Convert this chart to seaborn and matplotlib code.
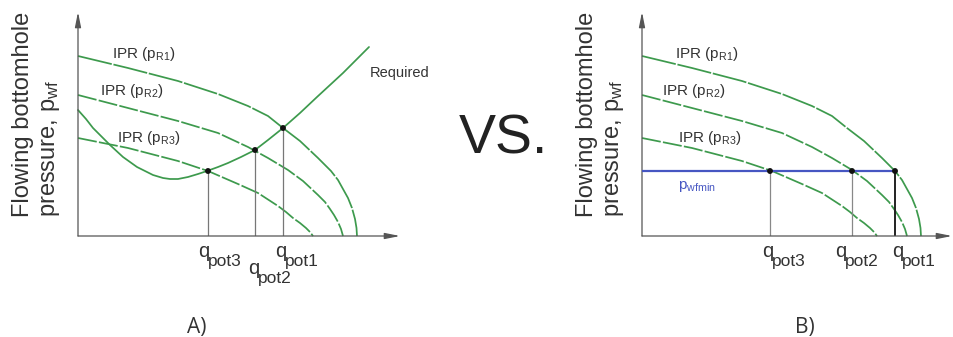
import matplotlib
matplotlib.use("Agg")
import matplotlib.pyplot as plt
import seaborn as sns

# Inflow performance curves (rate q, flowing pressure p), shared by both panels
ipr1_q = [0, 50, 100, 140, 170, 190, 205, 222, 240, 253, 260, 265, 270, 274, 277, 278.5, 279]
ipr1_p = [180, 168, 155, 142, 130, 120, 108, 95, 78, 65, 56, 47, 38, 28, 17, 8, 0]
ipr2_q = [0, 50, 100, 140, 170, 190, 210, 225, 240, 247, 252, 256, 260, 263, 265]
ipr2_p = [141, 128, 115, 103, 89, 78, 66, 55, 41, 34, 27, 21, 14, 7, 0]
ipr3_q = [0, 50, 100, 130, 160, 180, 200, 208, 215, 222, 228, 232, 235]
ipr3_p = [98, 88, 75, 65, 52, 43, 30, 24, 18, 13, 8, 4, 0]

# Required (outflow) pressure curve for panel A
req_q = [0, 8, 15, 24, 32, 45, 59, 75, 85, 92, 100, 110, 120, 129, 140, 150, 163,
         177, 190, 205, 222, 239, 252, 265, 278, 291]
req_p = [126, 117, 108, 99, 91, 79, 69, 61, 58, 57, 57, 59, 62, 65, 69, 73, 79,
         86, 96, 108, 123, 139, 151, 163, 176, 189]

# Operating points
qpot_a = [205, 177, 130]
ppot_a = [108, 86, 65]
qpot_b = [253, 210, 128]
pwfmin = 65

ipr_labels = [r"IPR ($\mathregular{p_{R1}}$)", r"IPR ($\mathregular{p_{R2}}$)",
              r"IPR ($\mathregular{p_{R3}}$)"]
pot_labels = ["pot1", "pot2", "pot3"]

GREEN = "#3d9a4d"
BLUE = "#4656c2"
TXT = "#333333"

sns.set_theme(style="white")
plt.rcParams["font.family"] = ["Liberation Sans", "DejaVu Sans"]
plt.rcParams["mathtext.fontset"] = "custom"
plt.rcParams["mathtext.rm"] = "Liberation Sans"

W, H = 954, 337
fig = plt.figure(figsize=(W / 100, H / 100), dpi=100)


def make_axes(x0, y0, w, h):
    ax = fig.add_axes([x0 / W, (H - y0) / H, w / W, h / H])
    ax.set_xlim(0, w)
    ax.set_ylim(0, h)
    ax.set_axis_off()
    return ax


def draw_frame(ax, xend, yend):
    arrow = dict(arrowstyle="-|>,head_length=0.9,head_width=0.18", color="#555555",
                 lw=0.9, shrinkA=0, shrinkB=0, mutation_scale=10)
    ax.annotate("", xy=(xend, 0), xytext=(0, 0), arrowprops=arrow, annotation_clip=False)
    ax.annotate("", xy=(0, yend), xytext=(0, 0), arrowprops=arrow, annotation_clip=False)


def draw_iprs(ax):
    styles = [(0, (20, 1)), (0, (11, 1.3)), (0, (11, 1.3))]
    for q, p, ls in zip([ipr1_q, ipr2_q, ipr3_q], [ipr1_p, ipr2_p, ipr3_p], styles):
        sns.lineplot(x=q, y=p, ax=ax, color=GREEN, lw=1.25, linestyle=ls,
                     estimator=None, sort=False, clip_on=False)


def ylabel(xc):
    fig.text(xc / W, (H - 217) / H, "Flowing bottomhole\npressure, $\\mathregular{p_{wf}}$",
             rotation=90, ha="center", va="bottom", fontsize=17, color=TXT,
             multialignment="left", linespacing=1.25)


def qlabel(ax, xline, dx, dy, sub):
    ax.annotate("q", xy=(xline, 0), xytext=(dx, dy), textcoords="offset pixels",
                fontsize=14.5, color=TXT, ha="left", va="baseline", annotation_clip=False)
    ax.annotate(sub, xy=(xline, 0), xytext=(dx + 10, dy - 9), textcoords="offset pixels",
                fontsize=12.5, color=TXT, ha="left", va="baseline", annotation_clip=False)


# ---------------- Panel A: IPR vs required pressure ----------------
axA = make_axes(78, 236, 330, 231)
draw_frame(axA, 322, 224)
draw_iprs(axA)
sns.lineplot(x=req_q, y=req_p, ax=axA, color=GREEN, lw=1.25, estimator=None,
             sort=False, clip_on=False)
axA.vlines(qpot_a, 0, ppot_a, color="#777777", lw=0.9)
sns.scatterplot(x=qpot_a, y=ppot_a, ax=axA, color="#111111", s=18, zorder=5,
                edgecolor="none")
for (x, y), lab in zip([(34, 178), (22, 141), (39, 94)], ipr_labels):
    axA.text(x, y, lab, fontsize=11, color=TXT, va="baseline", clip_on=False)
axA.text(292, 159, "Required", fontsize=10.5, color=TXT, va="baseline")
for q, (dx, dy), sub in zip(qpot_a, [(-8, -21), (-7, -38), (-10, -21)], pot_labels):
    qlabel(axA, q, dx, dy, sub)
ylabel(37)
fig.text(197 / W, (H - 328) / H, "A)", fontsize=15, color=TXT, ha="center",
         va="center", family="Open Sans")

# ---------------- "VS." ----------------
fig.text(503 / W, (H - 140) / H, "VS.", fontsize=40, color="#222222",
         ha="center", va="center")

# ---------------- Panel B: IPR vs minimum flowing pressure ----------------
axB = make_axes(642, 236, 312, 231)
draw_frame(axB, 310, 224)
draw_iprs(axB)
axB.hlines(pwfmin, 0, max(qpot_b), color=BLUE, lw=1.6, zorder=4)
axB.vlines(qpot_b[1:], 0, pwfmin, color="#888888", lw=0.9)
axB.vlines(qpot_b[:1], 0, pwfmin, color="#222222", lw=1.4)
sns.scatterplot(x=qpot_b, y=[pwfmin] * len(qpot_b), ax=axB, color="#111111", s=18,
                zorder=5, edgecolor="none")
for (x, y), lab in zip([(33, 178), (20, 141), (36, 94)], ipr_labels):
    axB.text(x, y, lab, fontsize=11, color=TXT, va="baseline", clip_on=False)
axB.text(36, 47, r"$\mathregular{p_{wfmin}}$", fontsize=11, color=BLUE, va="baseline")
for q, (dx, dy), sub in zip(qpot_b, [(-3, -21), (-17, -21), (-8, -21)], pot_labels):
    qlabel(axB, q, dx, dy, sub)
ylabel(601)
fig.text(805 / W, (H - 328) / H, "B)", fontsize=15, color=TXT, ha="center",
         va="center", family="Open Sans")

fig.savefig("out.png", dpi=100, facecolor="white")
